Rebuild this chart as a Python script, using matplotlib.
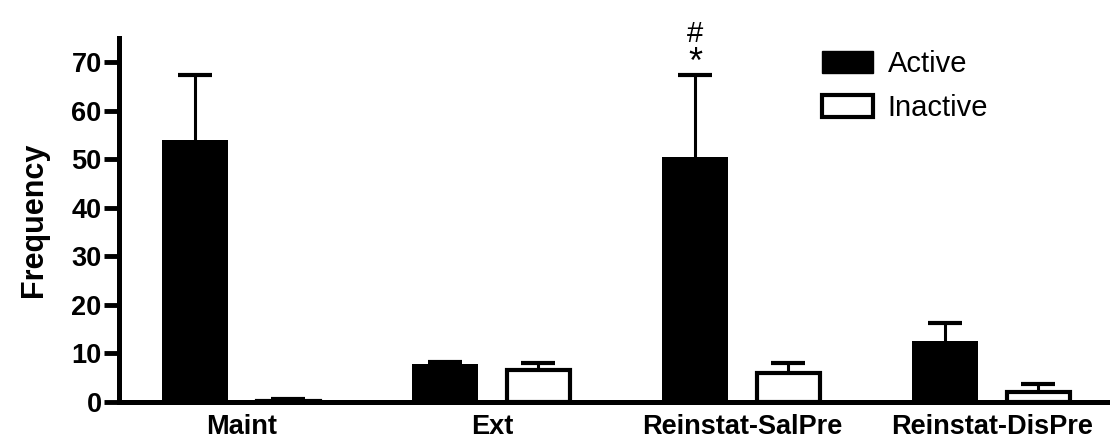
import numpy as np
import matplotlib
matplotlib.use("Agg")
from matplotlib import pyplot as plt
from matplotlib.patches import Patch

groups = ["Maint", "Ext", "Reinstat-SalPre", "Reinstat-DisPre"]
active = [54.0, 7.8, 50.5, 12.6]
active_err = [13.3, 0.5, 16.8, 3.7]
inactive = [0.3, 6.6, 6.0, 2.0]
inactive_err = [0.4, 1.4, 2.1, 1.7]
yticks = [0, 10, 20, 30, 40, 50, 60, 70]

plt.rcParams["font.family"] = ["Liberation Sans", "DejaVu Sans"]

x = np.arange(len(groups))
w = 0.264
off = 0.186

fig = plt.figure(figsize=(11.1, 4.46), dpi=100)
ax = fig.add_axes([0.1072, 0.0987, 0.8928, 0.8163])

ax.bar(x - off, active, w, color="black", edgecolor="black", linewidth=0, zorder=3)
ax.bar(x + off, inactive, w - 0.01, color="white", edgecolor="black", linewidth=3, zorder=3)
for pos, val, err in [(x - off, active, active_err), (x + off, inactive, inactive_err)]:
    eb = ax.errorbar(pos, val, yerr=[np.zeros(4), err], fmt="none",
                     ecolor="black", elinewidth=2.2, capsize=12.5, capthick=3, zorder=2)
    eb[1][0].set_visible(False)  # no cap at the bar top

# significance marks over Reinstat-SalPre
ax.text(2 - off, 69.8, "*", ha="center", va="center", fontsize=26, clip_on=False)
ax.text(2 - off, 75.8, "#", ha="center", va="center", fontsize=21, clip_on=False)

ax.set_xlim(-0.492, 3.472)
ax.set_ylim(0, 75)
ax.set_yticks(yticks)
ax.set_xticks(x)
ax.set_xticklabels(groups, fontsize=19.5, fontweight="bold")
ax.tick_params(axis="x", length=0, pad=9)
ax.tick_params(axis="y", length=11, width=3.5, pad=1.5, labelsize=19.5)
for lab in ax.get_yticklabels():
    lab.set_fontweight("bold")
ax.set_ylabel("Frequency", fontsize=22, fontweight="bold", labelpad=16)

ax.spines["top"].set_visible(False)
ax.spines["right"].set_visible(False)
ax.spines["left"].set_linewidth(3.6)
ax.spines["bottom"].set_linewidth(3.6)

handles = [Patch(facecolor="black", edgecolor="black", label="Active"),
           Patch(facecolor="white", edgecolor="black", linewidth=3, label="Inactive")]
fig.legend(handles=handles, loc="upper left", bbox_to_anchor=(822 / 1110, 1 - 50 / 446),
           frameon=False, fontsize=21, handlelength=1.75, handleheight=0.75,
           handletextpad=0.5, labelspacing=0.55, borderpad=0, borderaxespad=0)

plt.savefig("out.png", dpi=100)
